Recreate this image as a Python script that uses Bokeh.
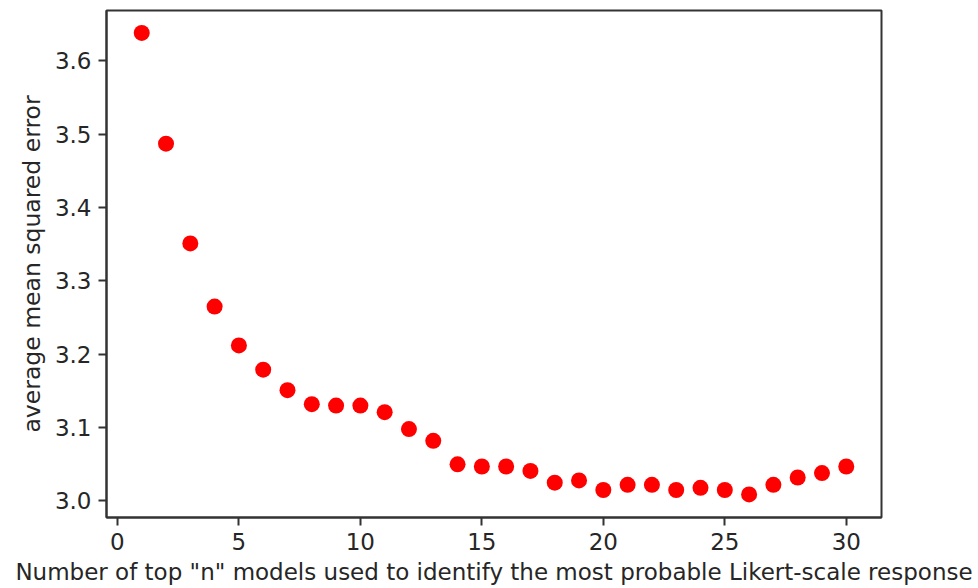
from bokeh.plotting import figure
from bokeh.models import FixedTicker, NumeralTickFormatter, Range1d
from bokeh.embed import file_html
from bokeh.resources import INLINE

n_models = list(range(1, 31))
avg_mse = [3.638, 3.487, 3.351, 3.265, 3.212, 3.179, 3.151, 3.132, 3.130, 3.130,
           3.121, 3.098, 3.082, 3.050, 3.047, 3.047, 3.041, 3.025, 3.028, 3.015,
           3.022, 3.022, 3.015, 3.018, 3.015, 3.009, 3.022, 3.032, 3.038, 3.047]
x_ticks = [0, 5, 10, 15, 20, 25, 30]
y_ticks = [3.0, 3.1, 3.2, 3.3, 3.4, 3.5, 3.6]
x_label = 'Number of top "n" models used to identify the most probable Likert-scale response'
y_label = "average mean squared error"

FONT = "DejaVu Sans"
TXT = "#262626"
LINE = "#333333"

p = figure(width=978, height=588, output_backend="svg", toolbar_location=None,
           x_range=Range1d(-0.45, 31.45), y_range=Range1d(2.9775, 3.6685),
           min_border_left=106, min_border_right=97, min_border_top=10, min_border_bottom=71)
p.background_fill_color = "white"
p.border_fill_color = "white"
p.outline_line_color = LINE
p.outline_line_width = 2
p.grid.visible = False

p.scatter(n_models, avg_mse, size=16, color="#ff0000", line_color=None)

for ax, ticks, fmt, lab, lsize in ((p.xaxis[0], x_ticks, "0", x_label, "23px"),
                                   (p.yaxis[0], y_ticks, "0.0", y_label, "23.5px")):
    ax.ticker = FixedTicker(ticks=ticks, minor_ticks=[])
    ax.formatter = NumeralTickFormatter(format=fmt)
    ax.axis_label = lab
    ax.axis_label_text_font = FONT
    ax.axis_label_text_font_size = lsize
    ax.axis_label_text_font_style = "normal"
    ax.axis_label_text_color = TXT
    ax.major_label_text_font = FONT
    ax.major_label_text_font_size = "23px"
    ax.major_label_text_color = TXT
    ax.axis_line_color = LINE
    ax.axis_line_width = 2
    ax.major_tick_line_color = LINE
    ax.major_tick_line_width = 2
    ax.major_tick_out = 8
    ax.major_tick_in = 0
    ax.minor_tick_line_color = None
    ax.major_label_standoff = 7
    ax.axis_label_standoff = 6

open("out.html", "w").write(file_html(p, INLINE))
